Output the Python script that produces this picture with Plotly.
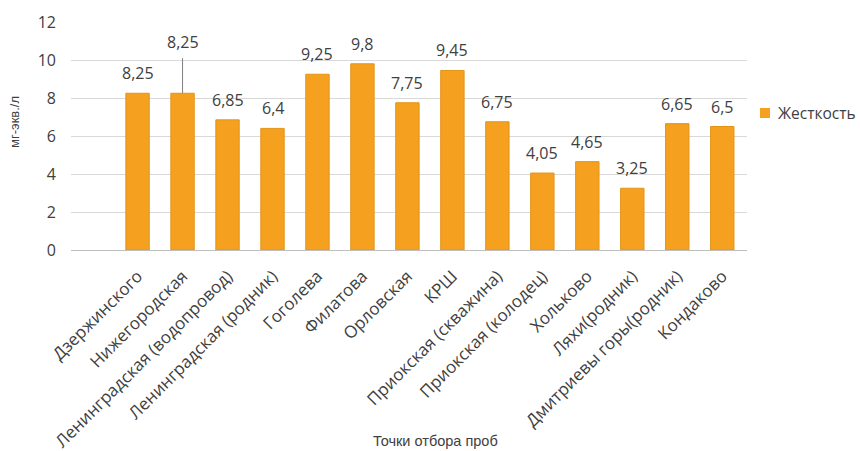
import plotly.graph_objects as go

# Sampling points and water hardness (mg-eq/l)
points = ["Дзержинского", "Нижегородская", "Ленинградская (водопровод)",
          "Ленинградская (родник)", "Гоголева", "Филатова", "Орловская", "КРШ",
          "Приокская (скважина)", "Приокская (колодец)", "Хольково",
          "Ляхи(родник)", "Дмитриевы горы(родник)", "Кондаково"]
hardness = [8.25, 8.25, 6.85, 6.4, 9.25, 9.8, 7.75, 9.45, 6.75, 4.05, 4.65, 3.25, 6.65, 6.5]
y_ticks = [0, 2, 4, 6, 8, 10, 12]
series_name = "Жесткость"
x_title = "Точки отбора проб"
y_title = "мг-экв./л"

BAR = "#F5A01F"
TXT = "#404040"
FONT = "Open Sans, DejaVu Sans, sans-serif"
SANS = "Liberation Sans, Arial, sans-serif"

W, H = 860, 451
L, R, T, B = 71, 113, 22, 201
PW, PH = W - L - R, H - T - B


def px_x(px):
    return (px - L) / PW


def px_y(py):
    return (H - B - py) / PH


def fmt(v):
    return ("%g" % v).replace(".", ",")


idx = list(range(len(points)))

fig = go.Figure()
fig.add_trace(go.Bar(
    x=idx, y=hardness, name=series_name, width=0.52,
    marker=dict(color=BAR, line=dict(color="#E39418", width=1)),
    showlegend=False,
))

# value labels; the second one is lifted and tied back with a leader line
moved = {1: 10.1}
annotations = []
shapes = []
for i, v in enumerate(hardness):
    if i in moved:
        top = moved[i]
        shapes.append(dict(type="line", xref="x", yref="y", x0=i, x1=i, y0=v, y1=top,
                           line=dict(color="#7f7f7f", width=1)))
        annotations.append(dict(x=i, y=top, text=fmt(v), showarrow=False,
                                yanchor="bottom", yshift=3,
                                font=dict(size=16, color=TXT, family=FONT)))
    else:
        annotations.append(dict(x=i, y=v, text=fmt(v), showarrow=False,
                                yanchor="bottom", yshift=7,
                                font=dict(size=16, color=TXT, family=FONT)))

# series key on the right
shapes.append(dict(type="rect", xref="paper", yref="paper",
                   x0=px_x(760), x1=px_x(770), y0=px_y(118), y1=px_y(108),
                   fillcolor=BAR, line=dict(width=0)))
annotations.append(dict(xref="paper", yref="paper", x=px_x(776), y=px_y(113),
                        xanchor="left", yanchor="middle", showarrow=False,
                        text=series_name, font=dict(size=15.5, color=TXT, family=FONT)))

# axis titles
annotations.append(dict(xref="paper", yref="paper", x=px_x(435), y=px_y(441),
                        xanchor="center", yanchor="middle", showarrow=False,
                        text=x_title, font=dict(size=14.5, color=TXT, family=SANS)))
annotations.append(dict(xref="paper", yref="paper", x=px_x(14), y=px_y(122),
                        xanchor="center", yanchor="middle", showarrow=False,
                        textangle=-90,
                        text=y_title, font=dict(size=13, color=TXT, family=SANS)))

fig.update_layout(
    width=W, height=H,
    margin=dict(l=L, r=R, t=T, b=B),
    paper_bgcolor="white", plot_bgcolor="white",
    font=dict(family=FONT, color=TXT),
    annotations=annotations,
    shapes=shapes,
    showlegend=False,
    xaxis=dict(
        range=[-1.48, 13.55], automargin=False,
        tickmode="array", tickvals=idx, ticktext=points, tickangle=-45,
        tickfont=dict(size=17, color=TXT, family=FONT),
        showgrid=False, showline=False, zeroline=False, ticks="",
        ticklabelstandoff=12,
    ),
    yaxis=dict(
        range=[0, 12], tickvals=y_ticks, automargin=False,
        tickfont=dict(size=16, color=TXT, family=FONT),
        showgrid=True, gridcolor="#d9d9d9", gridwidth=1,
        zeroline=True, zerolinecolor="#bfbfbf", zerolinewidth=1,
        showline=False, ticks="", ticklabelstandoff=14,
    ),
)

fig.write_html("out.html")
